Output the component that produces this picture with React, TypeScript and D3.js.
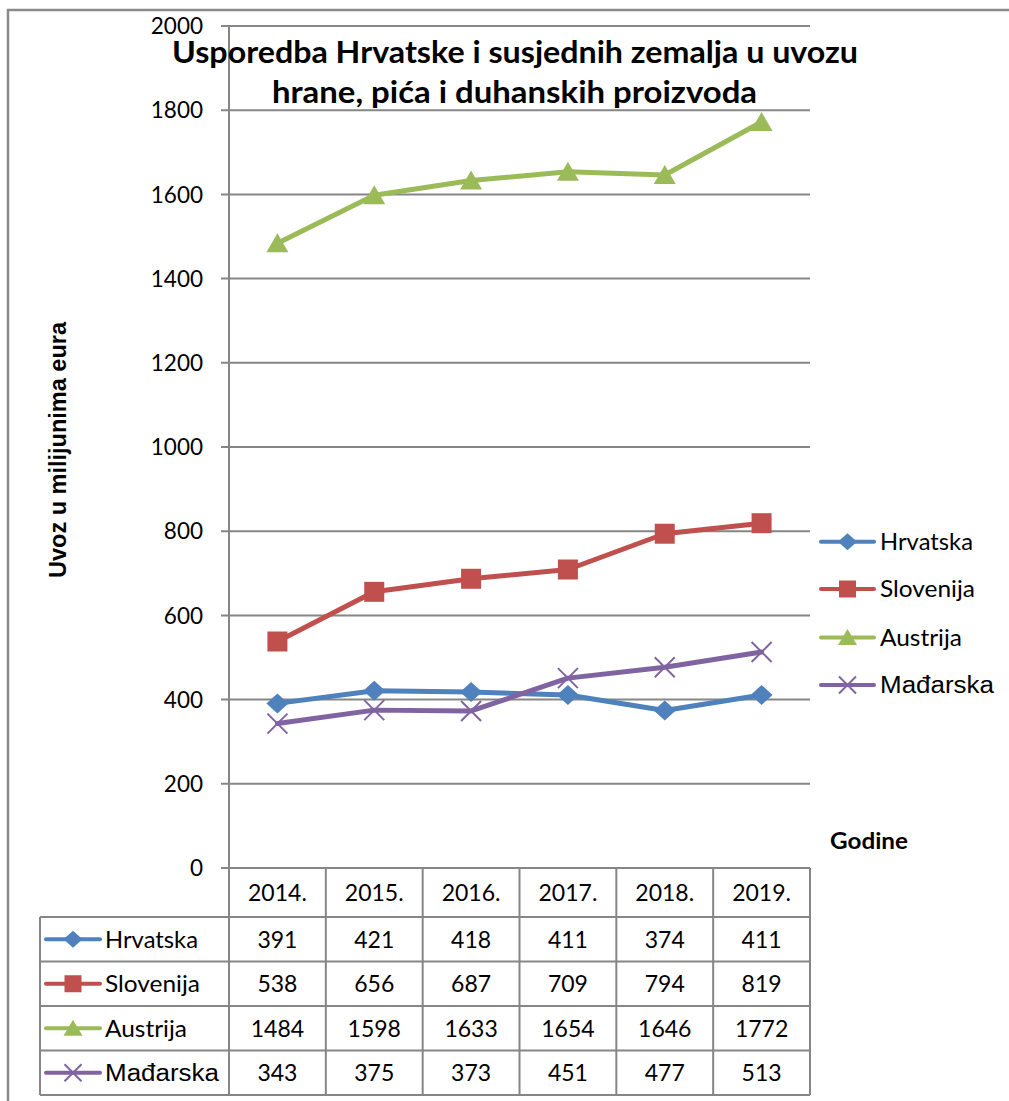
import React from 'react';
import * as d3 from 'd3';

const years = ['2014.', '2015.', '2016.', '2017.', '2018.', '2019.'];
const seriesNames = ['Hrvatska', 'Slovenija', 'Austrija', 'Mađarska'];
const hrvatska = [391, 421, 418, 411, 374, 411];
const slovenija = [538, 656, 687, 709, 794, 819];
const austrija = [1484, 1598, 1633, 1654, 1646, 1772];
const madarska = [343, 375, 373, 451, 477, 513];
const yTicks = [0, 200, 400, 600, 800, 1000, 1200, 1400, 1600, 1800, 2000];
const titleLines = ['Usporedba Hrvatske i susjednih zemalja u uvozu', 'hrane, pića i duhanskih proizvoda'];
const yTitle = 'Uvoz u milijunima eura';
const xTitle = 'Godine';

const seriesValues = [hrvatska, slovenija, austrija, madarska];
const colors = ['#4F81BD', '#C0504D', '#9BBB59', '#8064A2'];
const markerTypes = ['diamond', 'square', 'triangle', 'x'];
// measured label widths in the reference (legend)
const labelWidths = [93, 95, 82, 114];

const FONT = "Lato, 'Open Sans', sans-serif";
const ARIAL = "'Liberation Sans', Arial, sans-serif";
const GRID = '#868686';

function Marker({ type, cx, cy, s, color }: { type: string; cx: number; cy: number; s: number; color: string }) {
  const h = s / 2;
  if (type === 'diamond') {
    return <path d={`M${cx},${cy - h}L${cx + h + 1},${cy}L${cx},${cy + h}L${cx - h - 1},${cy}Z`} fill={color} />;
  }
  if (type === 'square') {
    return <rect x={cx - h} y={cy - h} width={s} height={s} fill={color} />;
  }
  if (type === 'triangle') {
    return <path d={`M${cx},${cy - h}L${cx + h + 1},${cy + h - 1}L${cx - h - 1},${cy + h - 1}Z`} fill={color} />;
  }
  return (
    <path d={`M${cx - h},${cy - h}L${cx + h},${cy + h}M${cx - h},${cy + h}L${cx + h},${cy - h}`} stroke={color} strokeWidth={2} fill="none" />
  );
}

export default function App() {
  const x = d3.scaleBand<string>().domain(years).range([229, 810]);
  const bw = x.bandwidth();
  const y = d3.scaleLinear().domain([0, 2000]).range([868, 26]);
  const cx = (yr: string) => (x(yr) as number) + bw / 2;

  const line = d3
    .line<number>()
    .x((_, i) => cx(years[i]))
    .y((v) => y(v));

  const tableTop = 868;
  const headerBottom = 917;
  const rowH = 44.5;
  const tableLeft = 40;
  const rowLines = [0, 1, 2, 3, 4].map((i) => headerBottom + i * rowH);
  const colEdges = [...years.map((yr) => x(yr) as number), 810];

  const legendY = [541.7, 589, 637.5, 685];

  return (
    <svg width={1009} height={1101} style={{ position: 'absolute', left: 0, top: 0, background: '#fff' }}>
      <rect x={0} y={0} width={1009} height={1101} fill="#fff" />
      {/* frame */}
      <line x1={7} x2={1009} y1={10} y2={10} stroke="#8a8a8a" strokeWidth={2.5} />
      <line x1={8} x2={8} y1={9} y2={1101} stroke="#8a8a8a" strokeWidth={2.5} />

      {/* gridlines + ticks */}
      {yTicks.map((t) => (
        <g key={t}>
          <line x1={221} x2={810} y1={y(t)} y2={y(t)} stroke={GRID} strokeWidth={2} />
          <text x={203} y={y(t)} dy="0.36em" textAnchor="end" fontFamily={FONT} fontSize={22.5} fill="#000">
            {t}
          </text>
        </g>
      ))}
      <line x1={229} x2={229} y1={26} y2={1095} stroke={GRID} strokeWidth={2} />

      {/* table */}
      {rowLines.map((ry, i) => (
        <line key={'r' + i} x1={tableLeft} x2={810} y1={ry} y2={ry} stroke={GRID} strokeWidth={2} />
      ))}
      <line x1={tableLeft} x2={tableLeft} y1={headerBottom} y2={rowLines[4]} stroke={GRID} strokeWidth={2} />
      {colEdges.map((cxE, i) => (
        <line key={'c' + i} x1={cxE} x2={cxE} y1={tableTop} y2={rowLines[4]} stroke={GRID} strokeWidth={2} />
      ))}
      {years.map((yr) => (
        <text key={yr} x={cx(yr)} y={(tableTop + headerBottom) / 2} dy="0.36em" textAnchor="middle" fontFamily={FONT} fontSize={23}>
          {yr}
        </text>
      ))}
      {seriesNames.map((name, si) => {
        const rc = headerBottom + si * rowH + rowH / 2;
        return (
          <g key={name}>
            <line x1={46} x2={100} y1={rc} y2={rc} stroke={colors[si]} strokeWidth={4} strokeLinecap="round" />
            <Marker type={markerTypes[si]} cx={73} cy={rc} s={17} color={colors[si]} />
            <text
              x={105}
              y={rc}
              dy="0.36em"
              fontFamily={si === 3 ? ARIAL : FONT}
              fontSize={23}
              textLength={labelWidths[si]}
              lengthAdjust="spacingAndGlyphs"
            >
              {name}
            </text>
            {seriesValues[si].map((v, i) => (
              <text key={i} x={cx(years[i])} y={rc} dy="0.36em" textAnchor="middle" fontFamily={FONT} fontSize={23}>
                {v}
              </text>
            ))}
          </g>
        );
      })}

      {/* series */}
      {seriesValues.map((vals, si) => (
        <g key={si}>
          <path d={line(vals) as string} fill="none" stroke={colors[si]} strokeWidth={5} strokeLinejoin="round" strokeLinecap="round" />
          {vals.map((v, i) => (
            <Marker key={i} type={markerTypes[si]} cx={cx(years[i])} cy={y(v)} s={20} color={colors[si]} />
          ))}
        </g>
      ))}

      {/* legend */}
      {seriesNames.map((name, si) => (
        <g key={'lg' + name}>
          <line x1={821} x2={874} y1={legendY[si]} y2={legendY[si]} stroke={colors[si]} strokeWidth={4} strokeLinecap="round" />
          <Marker type={markerTypes[si]} cx={847.5} cy={legendY[si]} s={17} color={colors[si]} />
          <text
            x={880}
            y={legendY[si]}
            dy="0.36em"
            fontFamily={si === 3 ? ARIAL : FONT}
            fontSize={23}
            textLength={labelWidths[si]}
            lengthAdjust="spacingAndGlyphs"
          >
            {name}
          </text>
        </g>
      ))}

      {/* titles */}
      <text x={172} y={63} fontFamily={FONT} fontWeight={700} fontSize={30} textLength={686} lengthAdjust="spacingAndGlyphs">
        {titleLines[0]}
      </text>
      <text x={272} y={103} fontFamily={FONT} fontWeight={700} fontSize={30} textLength={485} lengthAdjust="spacingAndGlyphs">
        {titleLines[1]}
      </text>
      <text
        transform={`translate(66,450) rotate(-90)`}
        textAnchor="middle"
        fontFamily={ARIAL}
        fontWeight={700}
        fontSize={23}
        textLength={256}
        lengthAdjust="spacingAndGlyphs"
      >
        {yTitle}
      </text>
      <text x={830} y={849} fontFamily={FONT} fontWeight={700} fontSize={23} textLength={78} lengthAdjust="spacingAndGlyphs">
        {xTitle}
      </text>
    </svg>
  );
}
